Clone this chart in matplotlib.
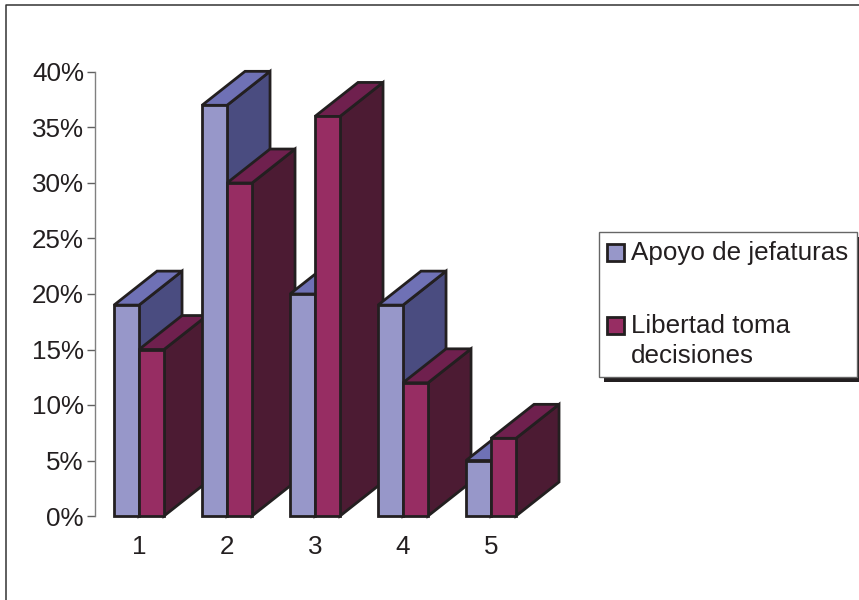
import matplotlib
matplotlib.use('Agg')
import matplotlib.pyplot as plt
from matplotlib.patches import Polygon, Rectangle

categories = [1, 2, 3, 4, 5]
apoyo = [19, 37, 20, 19, 5]
libertad = [15, 30, 36, 12, 7]
y_ticks = [0, 5, 10, 15, 20, 25, 30, 35, 40]

plt.rcParams['font.family'] = ['Liberation Sans', 'DejaVu Sans']

EDGE = '#231f20'
BLUE = ('#9797c9', '#6f71b5', '#4a4c80')
RED = ('#972d63', '#6f204e', '#4c1b33')
BAR_W = 0.284
DEPTH_X = 0.489
DEPTH_Y = 3.06


def draw_bar(ax, x0, value, colors):
    front, top, side = colors
    x1 = x0 + BAR_W
    dx, dy = DEPTH_X, DEPTH_Y
    shapes = [
        ([(x1, 0), (x1 + dx, dy), (x1 + dx, value + dy), (x1, value)], side),
        ([(x0, value), (x0 + dx, value + dy), (x1 + dx, value + dy), (x1, value)], top),
        ([(x0, 0), (x1, 0), (x1, value), (x0, value)], front),
    ]
    for pts, color in shapes:
        ax.add_patch(Polygon(pts, closed=True, facecolor=color, edgecolor=EDGE,
                             linewidth=2.0, joinstyle='miter', clip_on=False))


def box(x0, y0, x1, y1, **kw):
    # rectangle given in figure pixels, y counted from the top
    fig.add_artist(Rectangle((x0 / 859, 1 - y1 / 600), (x1 - x0) / 859, (y1 - y0) / 600,
                             transform=fig.transFigure, **kw))


fig = plt.figure(figsize=(8.59, 6), dpi=100)
ax = fig.add_axes([95 / 859, 84 / 600, 440 / 859, 444 / 600])
ax.set_xlim(0.5, 5.5)
ax.set_ylim(0, 40)
ax.patch.set_visible(False)

for c, a, b in zip(categories, apoyo, libertad):
    draw_bar(ax, c - BAR_W, a, BLUE)
    draw_bar(ax, c, b, RED)

for name in ['top', 'right', 'bottom']:
    ax.spines[name].set_visible(False)
ax.spines['left'].set_color('#808080')
ax.spines['left'].set_linewidth(1.0)
ax.set_yticks(y_ticks)
ax.set_yticklabels([f'{v}%' for v in y_ticks])
ax.tick_params(axis='y', length=6, width=1.0, color='#606060', pad=2,
               labelsize=18.7, labelcolor='#231f20')
ax.set_xticks(categories)
ax.tick_params(axis='x', length=0, pad=14, labelsize=18.7, labelcolor='#231f20')

# outer frame, running off the right edge
fig.add_artist(plt.Line2D([860 / 859, 6 / 859, 6 / 859, ], [1 - 5 / 600, 1 - 5 / 600, 0],
                          color='#333333', linewidth=1.1, transform=fig.transFigure))

# legend box with drop shadow
box(604, 237, 859, 382, facecolor='#231f20', edgecolor='none')
box(599, 232, 857, 377, facecolor='white', edgecolor='#666666', linewidth=1.0)
box(607, 244, 624, 261, facecolor=BLUE[0], edgecolor=EDGE, linewidth=2.0)
box(607, 317, 624, 334, facecolor=RED[0], edgecolor=EDGE, linewidth=2.0)
legend_kw = dict(fontsize=18.7, color='#231f20', ha='left', va='center')
fig.text(631 / 859, 1 - 253 / 600, 'Apoyo de jefaturas', **legend_kw)
fig.text(631 / 859, 1 - 326 / 600, 'Libertad toma', **legend_kw)
fig.text(631 / 859, 1 - 356 / 600, 'decisiones', **legend_kw)

fig.savefig('out.png', dpi=100)
